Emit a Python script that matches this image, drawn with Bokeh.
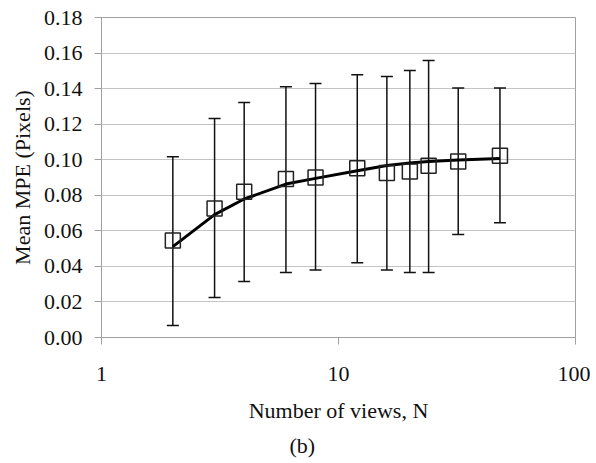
from bokeh.plotting import figure
from bokeh.models import (ColumnDataSource, Whisker, TeeHead, FixedTicker,
                          NumeralTickFormatter, BasicTickFormatter, Title, Range1d)
from bokeh.embed import file_html
from bokeh.resources import INLINE

# Data
views = [2, 3, 4, 6, 8, 12, 16, 20, 24, 32, 48]
mean_mpe = [0.0545, 0.0726, 0.0820, 0.0892, 0.0900, 0.0952, 0.0925, 0.0934, 0.0966, 0.0990, 0.1022]
upper_mpe = [0.1017, 0.1232, 0.1322, 0.1410, 0.1429, 0.1478, 0.1468, 0.1502, 0.1558, 0.1403, 0.1403]
lower_mpe = [0.0067, 0.0225, 0.0315, 0.0365, 0.0380, 0.0420, 0.0380, 0.0365, 0.0365, 0.0580, 0.0646]
trend_views = [2, 3, 4, 6, 8, 12, 16, 20, 24, 32, 48]
trend_mpe = [0.0511, 0.0691, 0.0779, 0.0863, 0.0895, 0.0938, 0.0968, 0.0981, 0.0990, 0.0998, 0.1007]
x_ticks = [1, 10, 100]
y_ticks = [0.0, 0.02, 0.04, 0.06, 0.08, 0.10, 0.12, 0.14, 0.16, 0.18]

FONT = "Liberation Serif"
AXIS_GRAY = "#a0a0a0"

p = figure(width=590, height=463, x_axis_type="log",
           x_range=Range1d(1, 100), y_range=Range1d(0, 0.18),
           output_backend="svg", toolbar_location=None,
           min_border_left=101, min_border_right=15, min_border_top=17, min_border_bottom=126)
p.background_fill_color = "white"
p.border_fill_color = "white"
p.outline_line_color = AXIS_GRAY
p.outline_line_width = 1

# grid
p.xgrid.visible = False
p.ygrid.grid_line_color = "#c4c4c4"
p.ygrid.grid_line_width = 1.2

# axes
p.xaxis.ticker = FixedTicker(ticks=x_ticks)
p.xaxis.formatter = BasicTickFormatter()
p.yaxis.ticker = FixedTicker(ticks=y_ticks)
p.yaxis.formatter = NumeralTickFormatter(format="0.00")
for ax in (p.xaxis[0], p.yaxis[0]):
    ax.axis_line_color = AXIS_GRAY
    ax.major_tick_line_color = AXIS_GRAY
    ax.minor_tick_line_color = None
    ax.major_tick_in = 0
    ax.major_tick_out = 7
    ax.major_label_text_font = FONT
    ax.major_label_text_font_size = "22px"
    ax.major_label_text_color = "#111111"
    ax.axis_label_text_font = FONT
    ax.axis_label_text_font_size = "22px"
    ax.axis_label_text_font_style = "normal"
    ax.axis_label_text_color = "#111111"

p.xaxis.major_label_standoff = 22
p.yaxis.major_label_standoff = 12
p.xaxis.axis_label = "Number of views, N"
p.xaxis.axis_label_standoff = 14
p.yaxis.axis_label = "Mean MPE (Pixels)"
p.yaxis.axis_label_standoff = 6

p.add_layout(Title(text="(b)", align="left", text_font=FONT, text_font_size="22px",
                   text_font_style="normal", text_color="#111111", offset=188), "below")

src = ColumnDataSource(data=dict(n=views, mean=mean_mpe, up=upper_mpe, lo=lower_mpe))

whisk = Whisker(source=src, base="n", upper="up", lower="lo",
                line_color="#111111", line_width=1.5,
                upper_head=TeeHead(size=12, line_color="#111111", line_width=1.5),
                lower_head=TeeHead(size=12, line_color="#111111", line_width=1.5))
p.add_layout(whisk)

p.line(trend_views, trend_mpe, line_color="black", line_width=3, line_join="round")

p.scatter("n", "mean", source=src, marker="square", size=15,
          fill_color=None, line_color="#222222", line_width=1.5)

open("out.html", "w").write(file_html(p, INLINE))
